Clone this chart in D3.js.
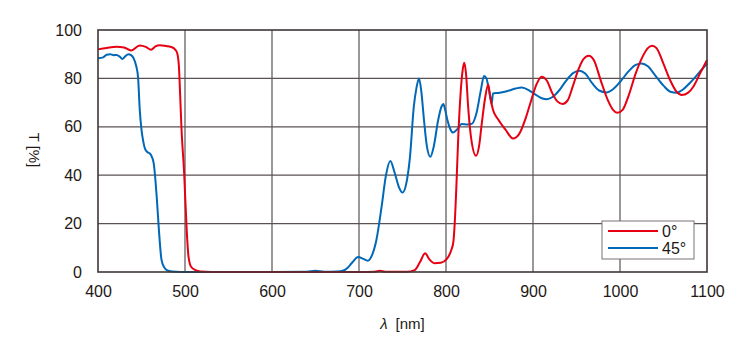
<!DOCTYPE html>
<html><head><meta charset="utf-8">
<script src="https://cdn.jsdelivr.net/npm/d3@7"></script>
<style>body{margin:0;background:#fff;} svg{display:block;font-family:"Liberation Sans",Arial,sans-serif;}</style>
</head><body><svg id="c" width="750" height="350"></svg>
<script>
const xTicks = [400,500,600,700,800,900,1000,1100];
const yTicks = [0,20,40,60,80,100];
const seriesNames = ["0°","45°"];
const seriesColors = ["#e60012","#0068b7"];

const wl0 = [400,410,421,430,438,448,455,461,466,471,478,484,489,491,493,494,496,499,502,504,507,512,518,530,600,700,718,724,730,755,764,770,776,781,787,794,801,806,808.5,810,812,814,817,819,821,823,825.5,829,834.5,838,841,845,848.5,851,854,860,868,877,884,892,898,904,910,916,922,928,934,940,946,952,958,964,970,978,986,992,997,1003,1010,1018,1026,1032,1037,1042,1050,1058,1065,1071,1078,1085,1092,1100];
const t0 = [92.0,92.6,93.1,92.8,91.5,93.6,93.0,91.8,93.2,93.7,93.4,93.0,91.8,90.5,85,77,59,41,17,6.5,2.2,0.8,0.2,0,0,0,0.1,0.5,0.1,0.1,0.8,4,7.7,5.2,3.6,3.8,5.4,9,12.5,20,36,55,75,83,86.5,82,68,55,48,52,61,72,77.5,72,67,63,59,55.2,57,64,71,77.5,80.7,79,74,70.5,69.4,71,77,83.5,88,89.4,87.5,79,71,67,65.8,67,73,82,89,92.5,93.5,92.5,86,79,74.5,73.1,74,77,82,87.6];

const wl45 = [400,406,410,414,418,421,425,428,431,435,438,441,444,446,448,450,452,454,457,460,462,464,466,467.5,470,473,476,479,485,495,600,640,650,660,675,682,687,692,699,705,710,715,720,726,731,736,741,746,750,754,758.6,763,766,769,771.5,774.7,778,782,786,791,795,797,799,801.6,805,808,813,818,825,829.5,835,840,843.7,846.5,848.6,851,852.5,854,860,870,880,887,895,902,910,916,922,930,938,946,953.6,960,968,976,984.3,992,1000,1010,1018,1025,1032,1040,1050,1058,1065,1072,1080,1090,1100];
const t45 = [88.3,88.7,89.8,90,89.6,89.7,89,88,89,90,89.6,88.3,85,80.7,67,58.7,54,51,49.5,48.8,47.5,45,38,31,17.4,5,2,0.8,0.2,0,0,0.1,0.5,0.1,0.2,0.6,1.8,3.8,6.2,5.4,4.7,7,13.2,27,40,45.9,41,35,32.8,36,47.6,68.3,76,80,75,62.8,52,47.6,52,62.8,68.5,69.4,67,62.8,59,57.6,59,61.2,61,61.2,65.6,75,81,80,76.6,72,69.5,73.8,74,74.7,75.8,76.2,75.2,73.5,71.8,71.4,72.2,75,79,82.2,83.2,82,78,75,74.2,75.5,78.5,83,85.6,86.2,85,81.5,77,74.5,74.1,75.3,78,82,86.2];

const svg = d3.select("#c");
const L=98,R=707,T=30,B=272;
const x = d3.scaleLinear().domain([400,1100]).range([L,R]);
const y = d3.scaleLinear().domain([0,100]).range([B,T]);
const txt = "#231815", gridC = "#5a5252";

// grid
svg.append("g").selectAll("line.v").data(xTicks.slice(1,-1)).join("line")
  .attr("x1",d=>x(d)).attr("x2",d=>x(d)).attr("y1",T).attr("y2",B)
  .attr("stroke",gridC).attr("stroke-width",1.2);
svg.append("g").selectAll("line.h").data(yTicks.slice(1,-1)).join("line")
  .attr("y1",d=>y(d)).attr("y2",d=>y(d)).attr("x1",L).attr("x2",R)
  .attr("stroke",gridC).attr("stroke-width",1.2);

// axes labels
const xa = d3.axisBottom(x).tickValues(xTicks).tickFormat(d3.format("d")).tickSize(0).tickPadding(14);
const gx = svg.append("g").attr("transform",`translate(0,${B})`).call(xa);
gx.select(".domain").remove();
gx.selectAll("text").attr("fill",txt).style("font-size","16px");
const ya = d3.axisLeft(y).tickValues(yTicks).tickFormat(d3.format("d")).tickSize(0).tickPadding(16);
const gy = svg.append("g").attr("transform",`translate(${L},0)`).call(ya);
gy.select(".domain").remove();
gy.selectAll("text").attr("fill",txt).style("font-size","16px");

// lines
const line = d3.line().x(d=>x(d[0])).y(d=>y(d[1])).curve(d3.curveMonotoneX);
const data = [d3.zip(wl0,t0), d3.zip(wl45,t45)];
svg.append("g").selectAll("path").data([1,0]).join("path")
  .attr("d",i=>line(data[i])).attr("fill","none")
  .attr("stroke",i=>seriesColors[i]).attr("stroke-width",2).attr("stroke-linejoin","round");

// frame
svg.append("rect").attr("x",L).attr("y",T).attr("width",R-L).attr("height",B-T)
  .attr("fill","none").attr("stroke","#3e3636").attr("stroke-width",1.6);

// axis titles
const xt = svg.append("text").attr("x",x(750)).attr("y",329).attr("text-anchor","middle")
  .attr("fill",txt).style("font-size","15px");
xt.append("tspan").attr("font-style","italic").text("λ");
xt.append("tspan").attr("dx",8).text("[nm]");
svg.append("text").attr("transform","translate(29,150) rotate(90)").attr("text-anchor","middle")
  .attr("fill",txt).style("font-size","15px").text("T [%]");

// legend
const lg = svg.append("g");
lg.append("rect").attr("x",602).attr("y",221).attr("width",92).attr("height",38)
  .attr("fill","#fff").attr("stroke","#7a7272").attr("stroke-width",1);
seriesNames.forEach((n,i)=>{
  const yy = 231 + i*17;
  lg.append("line").attr("x1",608).attr("x2",658).attr("y1",yy).attr("y2",yy)
    .attr("stroke",seriesColors[i]).attr("stroke-width",2);
  lg.append("text").attr("x",662).attr("y",yy+6).attr("fill",txt).style("font-size","16px").text(n);
});
</script></body></html>
